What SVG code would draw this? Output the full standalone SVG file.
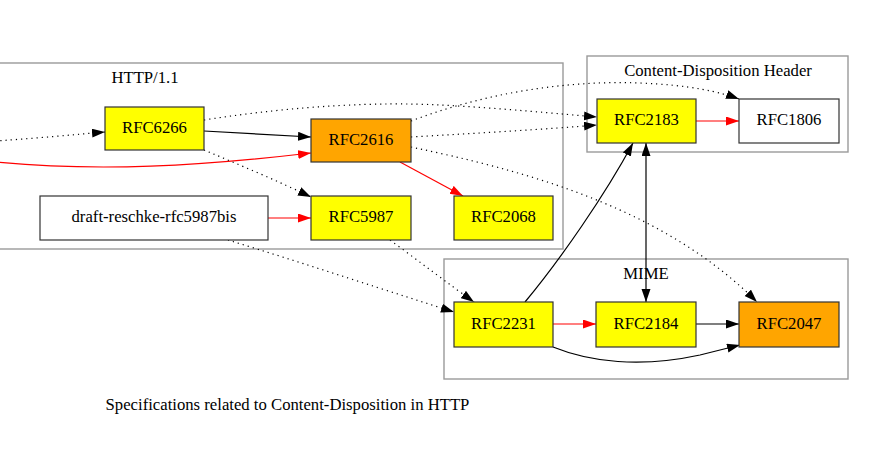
<svg xmlns="http://www.w3.org/2000/svg" width="872" height="451" viewBox="0 0 872 451" font-family="'Liberation Serif', 'Times New Roman', Times, serif">
<defs>
<style>
text{font-family:'Liberation Serif','Times New Roman',Times,serif;font-size:16.7px;fill:#000;text-anchor:middle}
.cl{fill:none;stroke:#9a9a9a;stroke-width:1.4}
.n{stroke:#333;stroke-width:1.2}
.y{fill:#ffff00}
.o{fill:#ffa500}
.w{fill:#fff}
.e{fill:none;stroke:#000;stroke-width:1.2}
.r{fill:none;stroke:#ff0000;stroke-width:1.2}
.d{fill:none;stroke:#000;stroke-width:1.2;stroke-dasharray:1.2 4}
</style>
<marker id="ab" markerWidth="13" markerHeight="10" refX="13" refY="4.5" orient="auto-start-reverse" markerUnits="userSpaceOnUse"><path d="M0,0 L13,4.5 L0,9 z" fill="#000"/></marker>
<marker id="ar" markerWidth="13" markerHeight="10" refX="13" refY="4.5" orient="auto" markerUnits="userSpaceOnUse"><path d="M0,0 L13,4.5 L0,9 z" fill="#ff0000"/></marker>
</defs>
<rect width="872" height="451" fill="#fff"/>
<g id="clusters">
<g id="cluster_http"><rect class="cl" x="-10" y="63" width="573" height="186"/><text x="145" y="83">HTTP/1.1</text></g>
<g id="cluster_cd"><rect class="cl" x="587" y="56" width="261" height="96"/><text x="718" y="76">Content-Disposition Header</text></g>
<g id="cluster_mime"><rect class="cl" x="444" y="259" width="404" height="120"/><text x="646" y="279">MIME</text></g>
</g>
<g id="edges">
<path class="d" d="M-5,141 C40,138 70,135 105,132" marker-end="url(#ab)"/>
<path class="r" d="M-5,162 C100,172 200,166 311,153" marker-end="url(#ar)"/>
<path class="e" d="M204,131 L311,137" marker-end="url(#ab)"/>
<path class="d" d="M204,150 C240,165 280,182 311,197" marker-end="url(#ab)"/>
<path class="d" d="M204,120 C300,105 380,102 440,105 C500,108 560,114 597,117" marker-end="url(#ab)"/>
<path class="d" d="M411,121 C480,95 560,80 640,83 C690,85 720,92 739,99" marker-end="url(#ab)"/>
<path class="d" d="M411,137 C480,133 550,129 597,125" marker-end="url(#ab)"/>
<path class="d" d="M411,147 C520,170 660,205 757,302" marker-end="url(#ab)"/>
<path class="r" d="M400,162 L463,196" marker-end="url(#ar)"/>
<path class="r" d="M268,218 L311,218" marker-end="url(#ar)"/>
<path class="d" d="M228,240 C300,262 400,295 454,312" marker-end="url(#ab)"/>
<path class="d" d="M390,240 C420,262 450,285 474,302" marker-end="url(#ab)"/>
<path class="e" d="M525,302 C560,260 605,195 633,143" marker-end="url(#ab)"/>
<path class="e" d="M646,143 L646,302" marker-start="url(#ab)" marker-end="url(#ab)"/>
<path class="r" d="M553,324 L596,324" marker-end="url(#ar)"/>
<path class="e" d="M696,324 L739,324" marker-end="url(#ab)"/>
<path class="e" d="M553,347 C590,362 640,368 700,355 L740,345" marker-end="url(#ab)"/>
<path class="r" d="M696,121 L739,121" marker-end="url(#ar)"/>
</g>
<g id="RFC6266"><rect class="n y" x="105" y="107" width="99" height="43"/><text x="154.5" y="132.5">RFC6266</text></g>
<g id="draft-reschke-rfc5987bis"><rect class="n w" x="40" y="196" width="228" height="44"/><text x="154" y="222">draft-reschke-rfc5987bis</text></g>
<g id="RFC2616"><rect class="n o" x="311" y="119" width="100" height="43"/><text x="361" y="144.5">RFC2616</text></g>
<g id="RFC5987"><rect class="n y" x="311" y="196" width="100" height="44"/><text x="361" y="222">RFC5987</text></g>
<g id="RFC2068"><rect class="n y" x="454" y="196" width="99" height="44"/><text x="503.5" y="222">RFC2068</text></g>
<g id="RFC2183"><rect class="n y" x="597" y="99" width="99" height="44"/><text x="646.5" y="125">RFC2183</text></g>
<g id="RFC1806"><rect class="n w" x="739" y="99" width="100" height="44"/><text x="789" y="125">RFC1806</text></g>
<g id="RFC2231"><rect class="n y" x="454" y="302" width="99" height="45"/><text x="503.5" y="328.5">RFC2231</text></g>
<g id="RFC2184"><rect class="n y" x="596" y="302" width="100" height="45"/><text x="646" y="328.5">RFC2184</text></g>
<g id="RFC2047"><rect class="n o" x="739" y="302" width="100" height="45"/><text x="789" y="328.5">RFC2047</text></g>
<text id="title" x="287.5" y="410">Specifications related to Content-Disposition in HTTP</text>
</svg>
